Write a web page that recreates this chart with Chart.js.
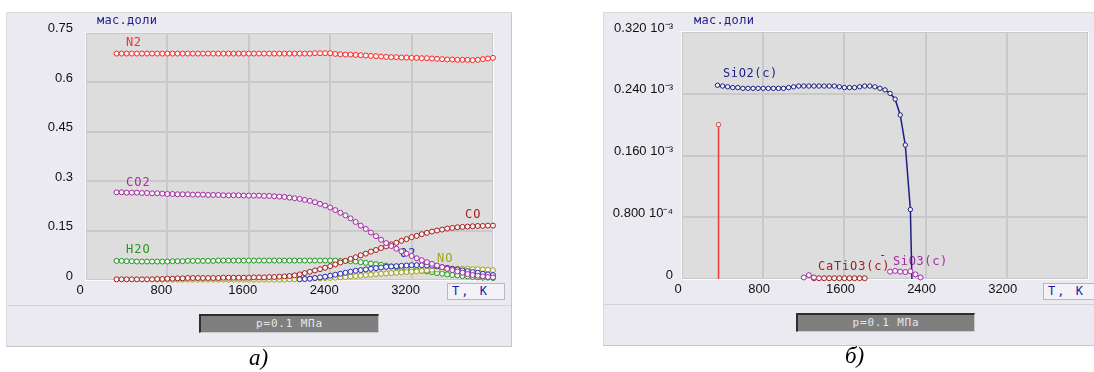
<!DOCTYPE html>
<html><head><meta charset="utf-8">
<script src="https://cdn.jsdelivr.net/npm/chart.js@4.4.1/dist/chart.umd.min.js"></script>
<style>
html,body{margin:0;padding:0;background:#fff;width:1094px;height:372px;overflow:hidden;font-family:'DejaVu Sans',sans-serif}
.panel{position:absolute;background:#ebeaf0;border:1px solid;border-color:#dadade #c6c6ca #c6c6ca #dadade;box-sizing:border-box}
.divider{position:absolute;height:1px;background:#d2d2d8}
.pbox{position:absolute;background:#7f7f7f;border-top:2px solid #2e2e2e;border-left:2px solid #2e2e2e;border-right:1px solid #cacaca;border-bottom:1px solid #cacaca;box-sizing:border-box;color:#e6e6e6;font-family:'DejaVu Sans Mono',monospace;font-size:11px;letter-spacing:0.8px;text-align:center;line-height:16px}
.tk{position:absolute;background:#f3f3f7;border:1px solid #b6b6c8;box-sizing:border-box;color:#1c1ca0;font-family:'DejaVu Sans Mono',monospace;font-size:12px;letter-spacing:2px;line-height:15px;padding-left:4px;white-space:pre}
.cap{position:absolute;font-family:'Liberation Serif',serif;font-style:italic;font-size:23px;line-height:24px;color:#000}
canvas{position:absolute}
</style></head>
<body>
<div class="panel" style="left:6px;top:12px;width:506px;height:335px"></div>
<div class="divider" style="left:7px;top:305px;width:504px"></div>
<div class="panel" style="left:603px;top:12px;width:495px;height:334px"></div>
<div class="divider" style="left:604px;top:304px;width:494px"></div>
<canvas id="c1" width="506" height="334" style="left:6px;top:12px"></canvas>
<canvas id="c2" width="491" height="334" style="left:603px;top:12px"></canvas>
<div class="tk" style="left:447px;top:283px;width:58px;height:17px">T, K</div>
<div class="tk" style="left:1043px;top:283px;width:60px;height:17px">T, K</div>
<div class="pbox" style="left:199px;top:314px;width:180px;height:19px">p=0.1 МПа</div>
<div class="pbox" style="left:796px;top:313px;width:179px;height:19px">p=0.1 МПа</div>
<div class="cap" style="left:249px;top:346px">а)</div>
<div class="cap" style="left:845px;top:344px">б)</div>
<script>
// ---------- data: left chart (mass fractions) ----------
const temps = [300,350,400,450,500,550,600,650,700,750,800,850,900,950,1000,1050,1100,1150,1200,1250,
  1300,1350,1400,1450,1500,1550,1600,1650,1700,1750,1800,1850,1900,1950,2000,2050,2100,2150,2200,2250,
  2300,2350,2400,2450,2500,2550,2600,2650,2700,2750,2800,2850,2900,2950,3000,3050,3100,3150,3200,3250,
  3300,3350,3400,3450,3500,3550,3600,3650,3700,3750,3800,3850,3900,3950,4000];
const n2 = [.687,.687,.687,.687,.687,.687,.687,.687,.687,.687,
  .687,.687,.687,.687,.687,.687,.687,.687,.687,.687,
  .687,.687,.687,.687,.687,.687,.687,.687,.687,.687,
  .687,.687,.687,.687,.687,.687,.687,.687,.687,.688,
  .688,.688,.688,.686,.685,.684,.684,.683,.682,.681,
  .680,.679,.678,.677,.676,.676,.675,.675,.674,.674,
  .673,.673,.672,.671,.670,.669,.669,.668,.668,.668,
  .667,.668,.670,.672,.674];
const co2 = [.266,.266,.265,.265,.265,.264,.264,.263,.263,.262,
  .261,.261,.260,.260,.260,.259,.259,.259,.258,.258,
  .258,.257,.257,.257,.257,.256,.256,.256,.256,.255,
  .255,.254,.253,.252,.250,.248,.246,.243,.240,.236,
  .231,.226,.220,.212,.204,.196,.187,.176,.165,.155,
  .144,.133,.122,.112,.103,.095,.087,.080,.073,.066,
  .060,.054,.049,.044,.039,.034,.030,.026,.022,.018,
  .015,.013,.011,.009,.008];
const co = [.002,.002,.002,.002,.002,.002,.002,.002,.003,.003,
  .004,.004,.005,.005,.006,.006,.006,.006,.006,.006,
  .006,.007,.007,.007,.007,.007,.007,.008,.008,.008,
  .009,.009,.010,.011,.012,.014,.017,.021,.025,.029,
  .033,.037,.042,.047,.053,.058,.064,.069,.075,.080,
  .086,.091,.097,.102,.108,.113,.119,.124,.130,.134,
  .139,.143,.147,.150,.153,.156,.158,.160,.161,.162,
  .163,.164,.164,.165,.165];
const h2o = [.058,.058,.057,.057,.056,.056,.056,.056,.056,.056,
  .056,.057,.057,.057,.058,.058,.058,.058,.058,.058,
  .059,.059,.059,.059,.059,.059,.059,.059,.059,.059,
  .059,.059,.059,.059,.059,.059,.059,.059,.059,.059,
  .059,.059,.059,.059,.058,.058,.057,.056,.054,.052,
  .050,.048,.046,.044,.041,.039,.037,.035,.032,.030,
  .028,.026,.024,.021,.019,.017,.015,.014,.012,.011,
  .009,.008,.007,.007,.006];
const o2 = [null,null,null,null,null,null,null,null,null,null,
  null,null,null,null,null,null,null,null,null,null,
  null,null,null,null,null,null,null,null,null,null,
  null,null,null,null,null,null,.002,.003,.004,.006,
  .008,.010,.013,.016,.019,.022,.025,.028,.030,.032,
  .034,.036,.038,.040,.041,.042,.043,.044,.045,.045,
  .045,.044,.043,.041,.039,.037,.034,.032,.029,.027,
  .024,.022,.019,.017,.015];
const no = [null,null,null,null,null,null,null,null,.001,.001,
  .001,.001,.001,.001,.001,.001,.001,.001,.001,.001,
  .001,.001,.001,.001,.001,.001,.001,.001,.001,.001,
  .001,.001,.001,.001,.002,.002,.003,.003,.004,.005,
  .005,.006,.006,.007,.008,.009,.011,.012,.013,.015,
  .016,.018,.019,.020,.021,.022,.023,.024,.025,.026,
  .028,.029,.031,.032,.033,.033,.034,.034,.034,.034,
  .033,.033,.032,.031,.030];

// ---------- data: right chart (mass fractions, units of 10^-3) ----------
const sio2T = [350,400,450,500,550,600,650,700,750,800,850,900,950,1000,1050,1100,1150,1200,1250,1300,
  1350,1400,1450,1500,1550,1600,1650,1700,1750,1800,1850,1900,1950,2000,2050,2100,2150,2200,2250,2265];
const sio2V = [.251,.250,.249,.248,.248,.247,.247,.247,.247,.247,
  .247,.247,.247,.247,.248,.249,.250,.250,.250,.250,
  .250,.250,.250,.250,.249,.248,.248,.248,.249,.250,
  .250,.249,.247,.245,.2405,.233,.2125,.1736,.090,0];
const redT = [360,360];
const redV = [0,0.200];
const catio3T = [1300,1350,1400,1450,1500,1550,1600,1650,1700,1750,1800];
const catio3V = [.001,.001,.001,.001,.001,.001,.001,.001,.001,.001,.001];
const purpleLowT = [1200,1250,1300];
const purpleLowV = [.002,.005,.002];
const sio3T = [2050,2100,2150,2200,2250,2300,2350];
const sio3V = [.0095,.0105,.0095,.009,.010,.006,.002];

// ---------- ticks ----------
const xTicks = [0,800,1600,2400,3200,4000];
const xTickLabels = ['0','800','1600','2400','3200',''];
const leftYTicks = [0,0.15,0.3,0.45,0.6,0.75];
const leftYTickLabels = ['0','0.15','0.3','0.45','0.6','0.75'];
const rightYTicks = [0,0.08,0.16,0.24,0.32];
const rightYTickLabels = ['0','0.800 10⁻⁴','0.160 10⁻³','0.240 10⁻³','0.320 10⁻³'];

// ---------- helpers ----------
function pts(xs, ys){ return xs.map((x,i)=>({x:x, y:ys[i]})); }
function series(label, xs, ys, color, extra){
  return Object.assign({
    label, data: pts(xs, ys), showLine:true, tension:0, spanGaps:false,
    borderColor: color, borderWidth: 1,
    pointBorderColor: color, pointBackgroundColor: '#f4f4f4',
    pointRadius: 2.5, pointBorderWidth: 1, pointHoverRadius: 2.5, clip: false
  }, extra || {});
}
const decor = {
  id:'decor',
  beforeDraw(chart){
    const a = chart.chartArea, c = chart.ctx;
    c.save(); c.fillStyle = '#dddddd';
    c.fillRect(a.left, a.top, a.right-a.left, a.bottom-a.top); c.restore();
  },
  beforeDatasetsDraw(chart, args, o){
    const a = chart.chartArea, c = chart.ctx;
    c.save();
    c.strokeStyle = '#fbfbfb'; c.lineWidth = 1;
    c.strokeRect(a.left-0.5, a.top-0.5, a.right-a.left+1, a.bottom-a.top+1);
    c.textBaseline = 'middle'; c.textAlign = 'left';
    c.font = '12px "DejaVu Sans Mono"';
    for (const l of o.labels){
      c.fillStyle = l.color;
      c.letterSpacing = l.ls + 'px';
      c.fillText(l.text, chart.scales.x.getPixelForValue(l.x), chart.scales.y.getPixelForValue(l.y));
    }
    c.letterSpacing = '0.3px';
    c.font = '12px "DejaVu Sans Mono"'; c.fillStyle = '#1c1c8c';
    c.fillText(o.unit, o.unitX, o.unitY);
    c.letterSpacing = '0px';
    c.restore();
  }
};
function xScale(h, offset){
  return {
    type:'linear', min:0, max:4000,
    afterBuildTicks: s => { s.ticks = xTicks.map(v=>({value:v})); },
    afterFit: s => { s.height = h; },
    grid:{ color:'#c9c9c9', lineWidth:2, drawTicks:false },
    border:{ display:false },
    ticks:{ autoSkip:false, maxRotation:0, padding:3, labelOffset:offset, color:'#111',
      font:{ family:'Liberation Sans', size:13 }, callback:(v,i)=>xTickLabels[i] }
  };
}
function yScale(w, max, ticks, labels, pad){
  return {
    type:'linear', min:0, max:max,
    afterBuildTicks: s => { s.ticks = ticks.map(v=>({value:v})); },
    afterFit: s => { s.width = w; },
    grid:{ color:'#c9c9c9', lineWidth:2, drawTicks:false },
    border:{ display:false },
    ticks:{ autoSkip:false, padding:pad, labelOffset:-4, color:'#111',
      font:{ family:'Liberation Sans', size:13 }, callback:(v,i)=>labels[i] }
  };
}

// ---------- left chart ----------
new Chart(document.getElementById('c1'), {
  type:'scatter',
  data:{ datasets:[
    series('CO2', temps, co2, '#a52aa5'),
    series('O2', temps, o2, '#2828b4'),
    series('CO', temps, co, '#a51e1e'),
    series('NO', temps, no, '#a3a318'),
    series('H2O', temps, h2o, '#1f9a1f'),
    series('N2', temps, n2, '#ff2626')
  ]},
  options:{
    responsive:false, animation:false, devicePixelRatio:1,
    layout:{ padding:{ top:20, right:19, left:0, bottom:0 } },
    scales:{ x: xScale(66, -6), y: yScale(80, 0.75, leftYTicks, leftYTickLabels, 13) },
    plugins:{ legend:{display:false}, tooltip:{enabled:false},
      decor:{ unit:'мас.доли', unitX:91, unitY:9, labels:[
        {text:'N2', x:393, y:0.720, color:'#ff2a2a', ls:0.5},
        {text:'CO2', x:393, y:0.296, color:'#a52aa5', ls:1},
        {text:'H2O', x:393, y:0.091, color:'#1f9a1f', ls:1},
        {text:'CO', x:3725, y:0.197, color:'#a51e1e', ls:1},
        {text:'O2', x:3086, y:0.079, color:'#2828b4', ls:1},
        {text:'NO', x:3450, y:0.0635, color:'#a3a318', ls:1}
      ]}
    }
  },
  plugins:[decor]
});

// ---------- right chart ----------
new Chart(document.getElementById('c2'), {
  type:'scatter',
  data:{ datasets:[
    series('SiO3(c)', sio3T, sio3V, '#a52aa5'),
    series('SiO3 low', purpleLowT, purpleLowV, '#a52aa5'),
    series('CaTiO3(c)', catio3T, catio3V, '#a31e1e'),
    series('SiO2(c)', sio2T, sio2V, '#1e1e82', { borderWidth:1.5, pointRadius: c => (c.raw && c.raw.y === 0 ? 0 : 2.2) }),
    series('red', redT, redV, '#f03a3a', { borderWidth:1.5, pointRadius: c => (c.dataIndex === 0 ? 0 : 2.2) })
  ]},
  options:{
    responsive:false, animation:false, devicePixelRatio:1,
    layout:{ padding:{ top:20, right:6, left:0, bottom:0 } },
    scales:{ x: xScale(67, -4), y: yScale(79, 0.32, rightYTicks, rightYTickLabels, 9) },
    plugins:{ legend:{display:false}, tooltip:{enabled:false},
      decor:{ unit:'мас.доли', unitX:91, unitY:9, labels:[
        {text:'SiO2(c)', x:404, y:0.2656, color:'#1e1e82', ls:0.6},
        {text:'CaTiO3(c)', x:1340, y:0.0156, color:'#a31e1e', ls:0.8},
        {text:'-', x:1941, y:0.0298, color:'#a31e1e', ls:0},
        {text:'SiO3(c)', x:2079, y:0.022, color:'#a52aa5', ls:0.6}
      ]}
    }
  },
  plugins:[decor]
});
</script>
</body></html>
